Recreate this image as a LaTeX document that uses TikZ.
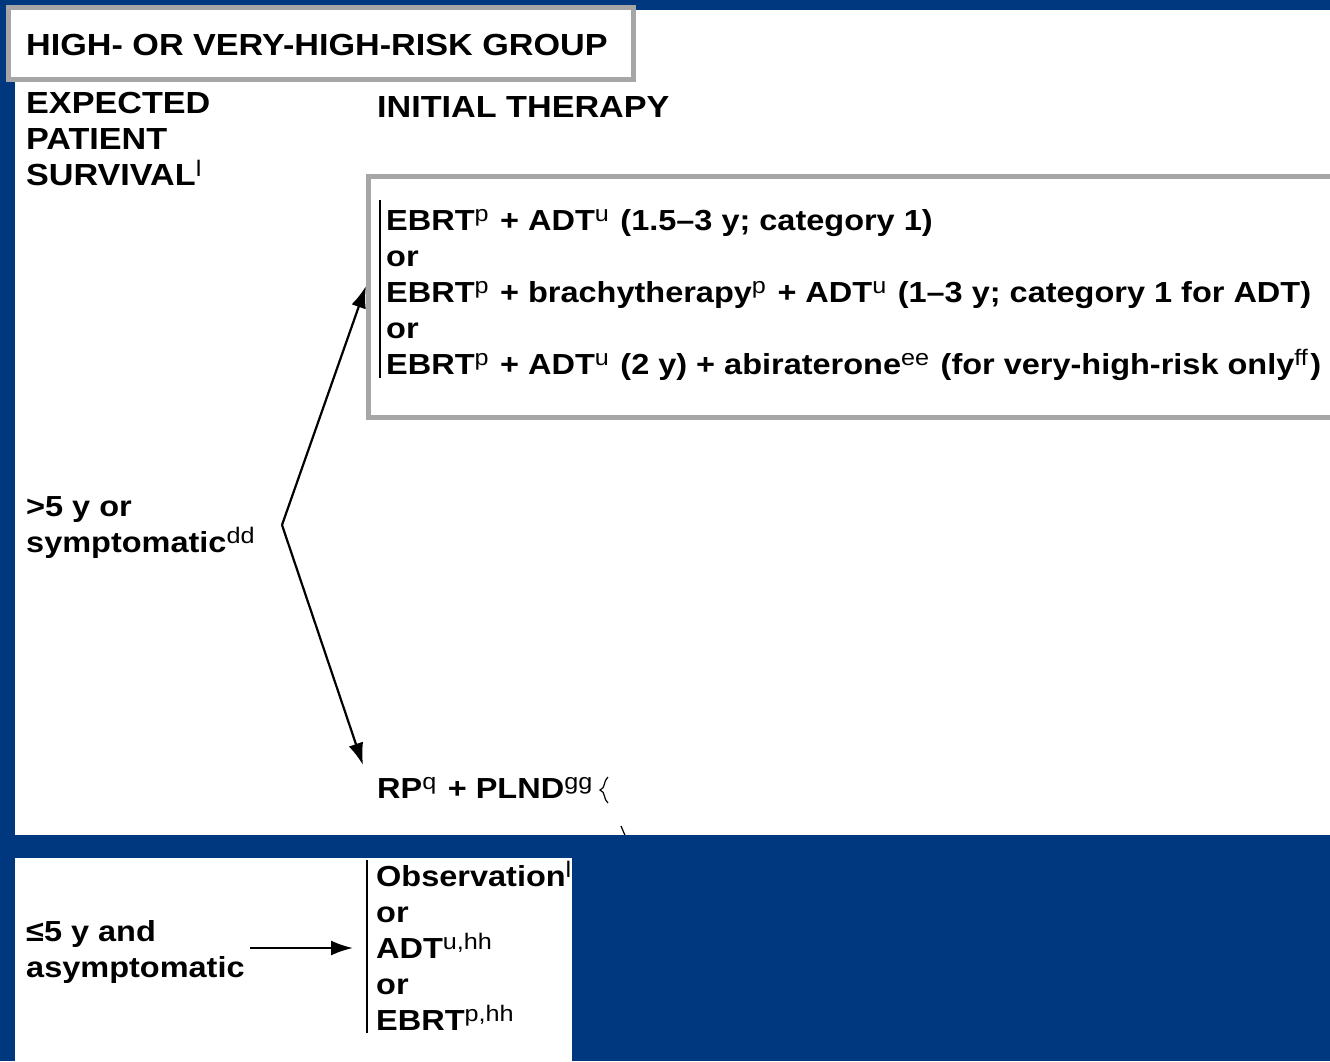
\documentclass[tikz,border=0pt]{standalone}
\usepackage{fontspec}
\setmainfont{Liberation Sans}[FakeStretch=1.12]
\usetikzlibrary{arrows.meta}
\definecolor{bgblue}{RGB}{0,56,128}
\definecolor{boxgray}{RGB}{166,166,166}
\newcommand\sps[1]{\raisebox{9pt}{\fontsize{22.5}{22}\selectfont\mdseries #1}\hspace{2.5pt}}
\begin{document}
\begin{tikzpicture}[x=1pt,y=-1pt,
  txt/.style={anchor=base west, inner sep=0pt, font=\fontsize{29}{36}\selectfont\bfseries},
  hdr/.style={anchor=base west, inner sep=0pt, font=\fontsize{30.5}{36}\selectfont\bfseries},
  grayframe/.style={draw=boxgray, line width=5pt, fill=white},
  arr/.style={line width=2.2pt, -{Latex[length=22pt,width=15pt]}},
  bar/.style={line width=1.5pt}]
\useasboundingbox (0,0) rectangle (1330,1061);
\clip (0,0) rectangle (1330,1061);
% background
\fill[bgblue] (0,0) rectangle (1330,1061);
\fill[white] (15,10) rectangle (1330,835);
\fill[white] (15,858) rectangle (572,1061);
% title box
\draw[grayframe] (8.5,7.5) rectangle (633.5,79.5);
\node[hdr] (title) at (26,55) {HIGH- OR VERY-HIGH-RISK GROUP};
% headers
\node[hdr] (sv1) at (26,113) {EXPECTED};
\node[hdr] (sv2) at (26,149) {PATIENT};
\node[hdr] (sv3) at (26,185) {SURVIVAL\sps{l}};
\node[hdr] (init) at (377,117) {INITIAL THERAPY};
% therapy box
\draw[grayframe] (368.5,176.5) rectangle (1345,417.5);
\draw[bar] (380,200) -- (380,378);
\node[txt] (t1) at (386,230) {EBRT\sps{p} + ADT\sps{u} (1.5–3 y; category 1)};
\node[txt] (t2) at (386,266) {or};
\node[txt] (t3) at (386,302) {EBRT\sps{p} + brachytherapy\sps{p} + ADT\sps{u} (1–3 y; category 1 for ADT)};
\node[txt] (t4) at (386,338) {or};
\node[txt] (t5) at (386,374) {EBRT\sps{p} + ADT\sps{u} (2 y) + abiraterone\sps{ee} (for very-high-risk only\sps{ff})};
% >5 y branch
\node[txt] (g1) at (26,516) {>5 y or};
\node[txt] (g2) at (26,552) {symptomatic\sps{dd}};
\coordinate (fork) at (282,525);
\coordinate (tipA) at (366,286);
\coordinate (tipB) at (363,765);
\draw[arr] (fork) -- (tipA);
\draw[arr] (fork) -- (tipB);
\node[txt] (rp) at (377,798) {RP\sps{q} + PLND\sps{gg}};
% fragments
\draw[line width=1.2pt] (608,777) .. controls (603,781) and (606,788) .. (600,790) .. controls (606,792) and (603,799) .. (608,803);
\draw[line width=1.2pt] (621,826) -- (627,840);
% <=5 y branch
\node[txt] (l1) at (26,941) {≤5 y and};
\node[txt] (l2) at (26,977) {asymptomatic};
\coordinate (la) at (250,948);
\coordinate (lb) at (353,948);
\draw[arr] (la) -- (lb);
\draw[bar] (367,860) -- (367,1033);
\node[txt] (o1) at (376,886) {Observation\sps{l}};
\node[txt] (o2) at (376,922) {or};
\node[txt] (o3) at (376,958) {ADT\sps{u,hh}};
\node[txt] (o4) at (376,994) {or};
\node[txt] (o5) at (376,1030) {EBRT\sps{p,hh}};
% blue overlays (cropping)
\fill[bgblue] (0,835) rectangle (1330,858);
\fill[bgblue] (572,858) rectangle (1330,1061);
\end{tikzpicture}
\end{document}
